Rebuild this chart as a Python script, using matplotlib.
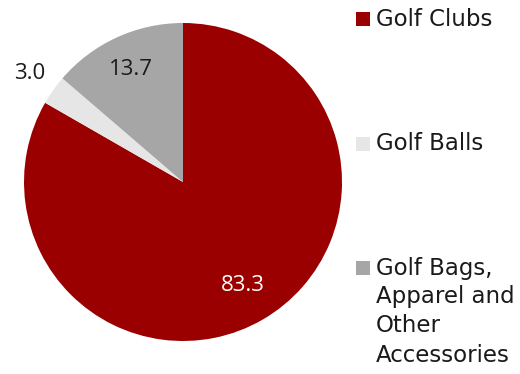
import numpy as np
import matplotlib
matplotlib.use("Agg")
import matplotlib.pyplot as plt
from matplotlib.patches import Rectangle

categories = ["Golf Clubs", "Golf Balls", "Golf Bags,\nApparel and\nOther\nAccessories"]
values = [83.3, 3.0, 13.7]
colors = ["#9B0000", "#E6E6E6", "#A6A6A6"]
label_colors = ["white", "#1a1a1a", "#1a1a1a"]
label_dist = [0.75, 1.18, 0.78]

W, H = 520, 374
fig = plt.figure(figsize=(W / 100, H / 100), dpi=100)

cx, cy, r = 183, 182, 159
ax = fig.add_axes([(cx - r) / W, (H - cy - r) / H, 2 * r / W, 2 * r / H])
wedges, _ = ax.pie(values, colors=colors, startangle=90, counterclock=False,
                   radius=1.0, wedgeprops=dict(linewidth=0))
ax.set_xlim(-1, 1)
ax.set_ylim(-1, 1)
ax.axis("off")

for w, v, c, d in zip(wedges, values, label_colors, label_dist):
    ang = np.deg2rad((w.theta1 + w.theta2) / 2)
    ax.text(d * np.cos(ang), d * np.sin(ang), f"{v:.1f}", ha="center", va="center",
            color=c, fontsize=16, family="Open Sans")

# legend drawn in figure pixel coordinates
sq = 14
legend_rows = [12, 137, 261]
line_step = 29
for top, name, col in zip(legend_rows, categories, colors):
    fig.patches.append(Rectangle((356 / W, 1 - (top + sq) / H), sq / W, sq / H,
                                 transform=fig.transFigure, facecolor=col,
                                 edgecolor="none"))
    for i, line in enumerate(name.split("\n")):
        fig.text(376 / W, 1 - (top + sq / 2 + i * line_step) / H, line,
                 ha="left", va="center", fontsize=16.5, color="#1a1a1a",
                 family="DejaVu Sans")

fig.savefig("out.png", dpi=100)
